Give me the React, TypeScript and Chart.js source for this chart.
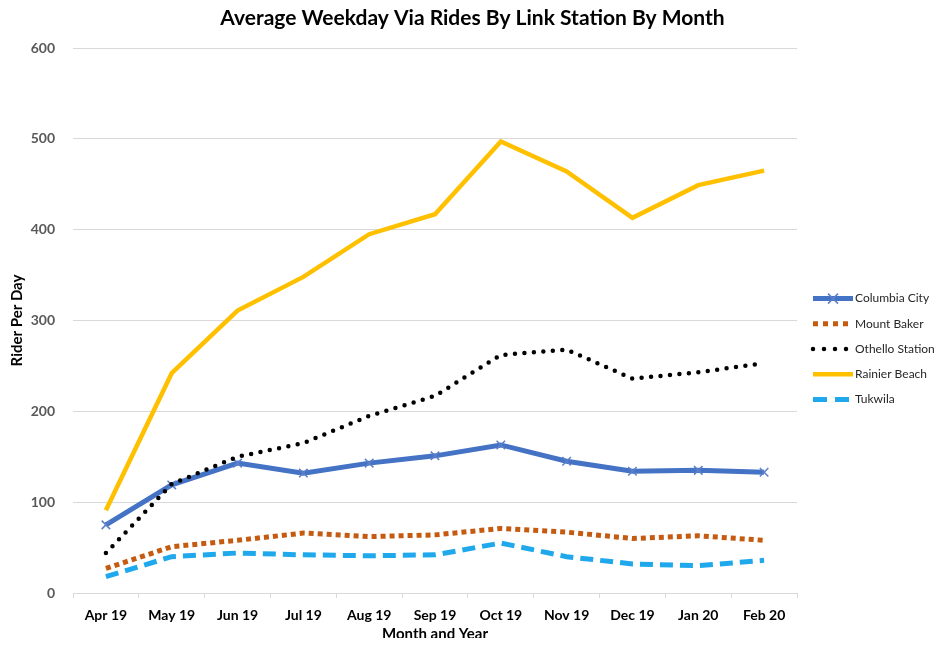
import React, { useEffect, useRef } from "react";
import { Chart, registerables } from "chart.js";

Chart.register(...registerables);

const months = ["Apr 19", "May 19", "Jun 19", "Jul 19", "Aug 19", "Sep 19", "Oct 19", "Nov 19", "Dec 19", "Jan 20", "Feb 20"];
const columbiaCity = [75, 119, 143, 132, 143, 151, 163, 145, 134, 135, 133];
const mountBaker = [27, 51, 58, 66, 62, 64, 71, 67, 60, 63, 58];
const othelloStation = [44, 120, 150, 165, 195, 217, 262, 268, 236, 243, 253];
const rainierBeach = [91, 242, 311, 348, 395, 417, 497, 464, 413, 449, 465];
const tukwila = [18, 40, 44, 42, 41, 42, 55, 40, 32, 30, 36];
const yMin = 0;
const yMax = 600;
const yStep = 100;

const FONT = "Lato, 'Open Sans', sans-serif";

const sideLegend = {
  id: "sideLegend",
  afterDraw(chart: any) {
    const ctx = chart.ctx;
    const x0 = chart.chartArea.right + 16;
    const x1 = x0 + 40;
    const tx = x1 + 2;
    const midY = (chart.chartArea.top + chart.chartArea.bottom) / 2 + 28.5;
    const n = chart.data.datasets.length;
    const gap = 25.2;
    const startY = midY - ((n - 1) * gap) / 2;
    chart.data.datasets.forEach((ds: any, i: number) => {
      const y = startY + i * gap;
      ctx.save();
      ctx.strokeStyle = ds.borderColor;
      ctx.lineWidth = ds.borderWidth;
      ctx.lineCap = ds.borderCapStyle || "butt";
      ctx.setLineDash(ds.legendDash || ds.borderDash || []);
      ctx.beginPath();
      ctx.moveTo(x0, y);
      ctx.lineTo(x1, y);
      ctx.stroke();
      if (ds.pointStyle === "crossRot") {
        ctx.setLineDash([]);
        ctx.lineWidth = ds.pointBorderWidth;
        ctx.strokeStyle = ds.pointBorderColor;
        const r = 5;
        const cx = (x0 + x1) / 2;
        ctx.beginPath();
        ctx.moveTo(cx - r, y - r);
        ctx.lineTo(cx + r, y + r);
        ctx.moveTo(cx - r, y + r);
        ctx.lineTo(cx + r, y - r);
        ctx.stroke();
      }
      ctx.fillStyle = "#262626";
      ctx.font = `12px ${FONT}`;
      ctx.textBaseline = "middle";
      ctx.textAlign = "left";
      ctx.fillText(ds.label, tx, y);
      ctx.restore();
    });
  },
};

export default function App() {
  const ref = useRef<HTMLCanvasElement | null>(null);
  useEffect(() => {
    if (!ref.current) return;
    const chart = new Chart(ref.current, {
      type: "line",
      data: {
        labels: months,
        datasets: [
          {
            label: "Columbia City",
            data: columbiaCity,
            borderColor: "#4472C4",
            borderWidth: 5,
            pointStyle: "crossRot",
            pointRadius: 6,
            pointBorderWidth: 1.5,
            pointBorderColor: "#5B7FC9",
            pointBackgroundColor: "#4472C4",
            tension: 0,
            order: 5,
          } as any,
          {
            label: "Mount Baker",
            data: mountBaker,
            borderColor: "#C55A11",
            borderWidth: 5,
            borderDash: [5, 4],
            borderCapStyle: "butt",
            pointRadius: 0,
            tension: 0,
            order: 4,
            legendDash: [5, 5],
          } as any,
          {
            label: "Othello Station",
            data: othelloStation,
            borderColor: "#000000",
            borderWidth: 4.5,
            borderDash: [0, 9.5],
            borderCapStyle: "round",
            pointRadius: 0,
            tension: 0,
            order: 3,
            legendDash: [0, 11],
          } as any,
          {
            label: "Rainier Beach",
            data: rainierBeach,
            borderColor: "#FFC000",
            borderWidth: 4.5,
            pointRadius: 0,
            tension: 0,
            order: 2,
          } as any,
          {
            label: "Tukwila",
            data: tukwila,
            borderColor: "#1FA9EC",
            borderWidth: 5,
            borderDash: [13, 7],
            borderCapStyle: "butt",
            pointRadius: 0,
            tension: 0,
            order: 1,
            legendDash: [14, 8],
          } as any,
        ],
      },
      options: {
        animation: false,
        responsive: true,
        maintainAspectRatio: false,
        layout: { padding: 0 },
        plugins: {
          legend: { display: false },
          tooltip: { enabled: false },
          title: {
            display: true,
            text: "Average Weekday Via Rides By Link Station By Month",
            color: "#000000",
            font: { family: FONT, size: 21, weight: "bold", lineHeight: 1 },
            padding: { top: 0, bottom: 19 },
          },
        },
        scales: {
          x: {
            type: "category",
            offset: true,
            grid: {
              display: true,
              drawOnChartArea: false,
              drawTicks: true,
              tickLength: 5,
              color: "#D9D9D9",
              offset: true,
            },
            border: { display: true, color: "#D9D9D9" },
            ticks: {
              color: "#000000",
              font: { family: FONT, size: 14, weight: "bold" },
              padding: 9,
              maxRotation: 0,
              autoSkip: false,
            },
            title: {
              display: true,
              text: "Month and Year",
              color: "#000000",
              font: { family: FONT, size: 15, weight: "bold" },
              padding: { top: 0, bottom: 3 },
            },
            afterFit(scale: any) {
              scale.height = 53;
            },
          },
          y: {
            min: yMin,
            max: yMax,
            grid: { color: "#D9D9D9", drawTicks: false },
            border: { display: false },
            ticks: {
              stepSize: yStep,
              color: "#595959",
              font: { family: FONT, size: 14, weight: "bold" },
              padding: 18,
            },
            title: {
              display: true,
              text: "Rider Per Day",
              color: "#000000",
              font: { family: FONT, size: 15, weight: "bold" },
              padding: { top: 0, bottom: 0 },
            },
            afterFit(scale: any) {
              scale.width = 65;
            },
          },
          legendSpace: {
            type: "linear",
            position: "right",
            display: true,
            grid: { display: false },
            ticks: { display: false },
            border: { display: false },
            afterFit(scale: any) {
              scale.width = 140;
            },
          },
        },
      } as any,
      plugins: [sideLegend],
    });
    return () => chart.destroy();
  }, []);

  return (
    <div style={{ width: 929, height: 638, marginBottom: -8, position: "relative" }}>
      <canvas ref={ref} />
    </div>
  );
}
